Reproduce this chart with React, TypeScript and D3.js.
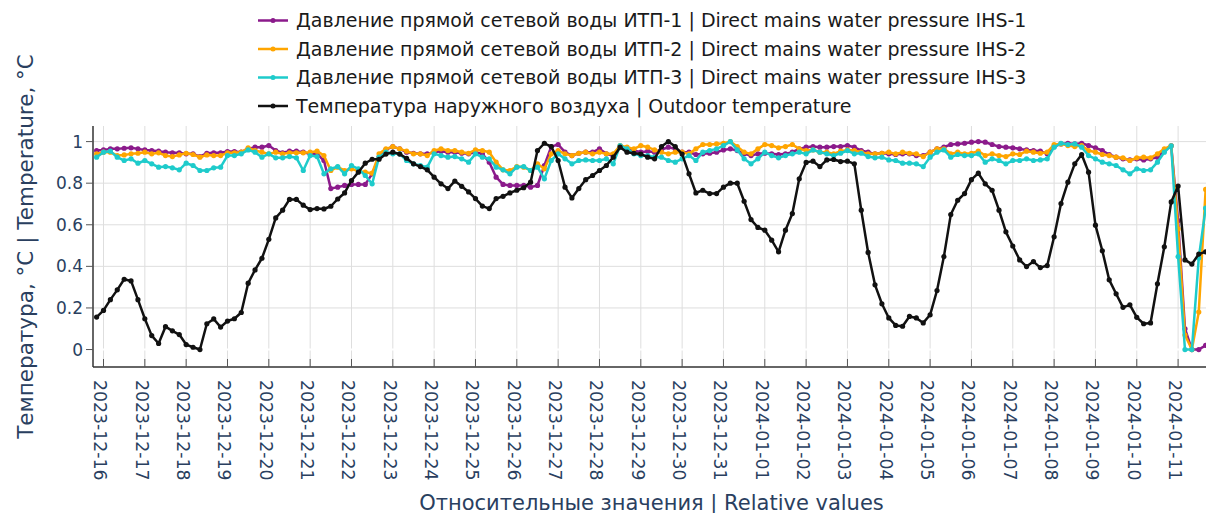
import React, { useRef, useEffect } from 'react'
import { select, scaleTime, scaleLinear, line, timeDay, timeFormat } from 'd3'

// readings every 4 hours, first one at 2023-12-15 20:00
const startTime = new Date(2023, 11, 15, 20, 0)
const stepHours = 4

const pressureIHS1 = [
    0.957, 0.960, 0.965, 0.965, 0.968, 0.970, 0.965, 0.960, 0.957, 0.954,
    0.949, 0.946, 0.946, 0.941, 0.941, 0.928, 0.944, 0.946, 0.946, 0.952,
    0.952, 0.949, 0.965, 0.973, 0.973, 0.981, 0.957, 0.946, 0.954, 0.954,
    0.949, 0.941, 0.941, 0.909, 0.774, 0.781, 0.789, 0.794, 0.794, 0.794,
    0.845, 0.925, 0.962, 0.976, 0.965, 0.949, 0.944, 0.941, 0.941, 0.949,
    0.954, 0.949, 0.949, 0.944, 0.941, 0.949, 0.941, 0.901, 0.829, 0.794,
    0.789, 0.789, 0.789, 0.781, 0.789, 0.885, 0.976, 0.986, 0.949, 0.933,
    0.944, 0.949, 0.949, 0.965, 0.941, 0.933, 0.976, 0.965, 0.957, 0.949,
    0.954, 0.949, 0.962, 0.973, 0.965, 0.949, 0.949, 0.938, 0.941, 0.944,
    0.949, 0.960, 0.965, 0.957, 0.941, 0.933, 0.941, 0.944, 0.941, 0.938,
    0.941, 0.949, 0.965, 0.973, 0.976, 0.973, 0.973, 0.976, 0.976, 0.981,
    0.973, 0.957, 0.949, 0.941, 0.944, 0.941, 0.938, 0.941, 0.941, 0.933,
    0.933, 0.949, 0.965, 0.973, 0.986, 0.989, 0.992, 0.997, 1.000, 0.997,
    0.986, 0.976, 0.973, 0.970, 0.965, 0.960, 0.957, 0.954, 0.941, 0.976,
    0.989, 0.992, 0.989, 0.992, 0.981, 0.970, 0.957, 0.938, 0.925, 0.917,
    0.912, 0.917, 0.912, 0.917, 0.925, 0.957, 0.980, 0.620, 0.100, 0.000,
    0.000, 0.020
]

const pressureIHS2 = [
    0.941, 0.949, 0.949, 0.933, 0.936, 0.941, 0.944, 0.949, 0.941, 0.946,
    0.933, 0.928, 0.936, 0.944, 0.938, 0.925, 0.936, 0.933, 0.933, 0.946,
    0.946, 0.949, 0.970, 0.957, 0.949, 0.941, 0.949, 0.941, 0.946, 0.946,
    0.946, 0.949, 0.954, 0.933, 0.861, 0.877, 0.861, 0.869, 0.858, 0.853,
    0.848, 0.941, 0.965, 0.976, 0.965, 0.954, 0.941, 0.941, 0.933, 0.957,
    0.965, 0.957, 0.957, 0.949, 0.944, 0.960, 0.957, 0.949, 0.901, 0.864,
    0.861, 0.880, 0.877, 0.861, 0.893, 0.869, 0.941, 0.957, 0.941, 0.933,
    0.944, 0.949, 0.941, 0.949, 0.941, 0.941, 0.981, 0.973, 0.965, 0.981,
    0.973, 0.960, 0.949, 0.941, 0.949, 0.949, 0.941, 0.965, 0.986, 0.986,
    0.989, 0.992, 1.000, 0.976, 0.949, 0.941, 0.965, 0.986, 0.981, 0.970,
    0.976, 0.986, 0.965, 0.957, 0.960, 0.949, 0.949, 0.941, 0.954, 0.960,
    0.957, 0.949, 0.941, 0.941, 0.944, 0.949, 0.941, 0.949, 0.944, 0.941,
    0.928, 0.949, 0.965, 0.965, 0.941, 0.949, 0.941, 0.944, 0.954, 0.933,
    0.941, 0.933, 0.928, 0.941, 0.938, 0.954, 0.949, 0.944, 0.949, 0.986,
    0.989, 0.981, 0.976, 0.981, 0.957, 0.949, 0.938, 0.933, 0.925, 0.922,
    0.909, 0.922, 0.925, 0.922, 0.941, 0.965, 0.980, 0.580, 0.070, 0.000,
    0.180, 0.770
]

const pressureIHS3 = [
    0.925, 0.949, 0.954, 0.925, 0.909, 0.917, 0.896, 0.909, 0.893, 0.877,
    0.880, 0.874, 0.864, 0.896, 0.885, 0.861, 0.861, 0.874, 0.877, 0.933,
    0.933, 0.941, 0.960, 0.949, 0.925, 0.941, 0.922, 0.922, 0.928, 0.922,
    0.861, 0.933, 0.928, 0.845, 0.869, 0.880, 0.845, 0.885, 0.869, 0.837,
    0.797, 0.925, 0.949, 0.941, 0.941, 0.909, 0.893, 0.885, 0.877, 0.941,
    0.933, 0.925, 0.928, 0.917, 0.901, 0.941, 0.925, 0.917, 0.877, 0.864,
    0.845, 0.877, 0.880, 0.861, 0.877, 0.821, 0.909, 0.941, 0.917, 0.893,
    0.909, 0.912, 0.909, 0.909, 0.917, 0.893, 0.981, 0.965, 0.941, 0.933,
    0.933, 0.925, 0.925, 0.909, 0.901, 0.917, 0.933, 0.909, 0.949, 0.957,
    0.965, 0.981, 1.000, 0.960, 0.917, 0.893, 0.917, 0.949, 0.933, 0.922,
    0.933, 0.941, 0.949, 0.941, 0.960, 0.949, 0.941, 0.933, 0.944, 0.957,
    0.941, 0.944, 0.928, 0.922, 0.925, 0.912, 0.909, 0.896, 0.896, 0.893,
    0.880, 0.925, 0.949, 0.960, 0.925, 0.938, 0.933, 0.933, 0.941, 0.901,
    0.917, 0.909, 0.893, 0.909, 0.909, 0.917, 0.909, 0.912, 0.917, 0.973,
    0.992, 0.986, 0.989, 0.973, 0.933, 0.917, 0.901, 0.893, 0.885, 0.864,
    0.845, 0.869, 0.861, 0.864, 0.901, 0.949, 0.980, 0.447, 0.000, 0.000,
    0.440, 0.680
]

const outdoorTemp = [
    0.156, 0.188, 0.240, 0.287, 0.338, 0.330, 0.240, 0.148, 0.067, 0.029,
    0.110, 0.090, 0.072, 0.024, 0.011, 0.000, 0.124, 0.147, 0.108, 0.137,
    0.148, 0.178, 0.319, 0.383, 0.439, 0.530, 0.633, 0.670, 0.722, 0.722,
    0.694, 0.673, 0.678, 0.676, 0.689, 0.724, 0.753, 0.813, 0.853, 0.896,
    0.915, 0.915, 0.940, 0.949, 0.940, 0.920, 0.893, 0.880, 0.864, 0.829,
    0.797, 0.774, 0.810, 0.785, 0.758, 0.726, 0.690, 0.678, 0.726, 0.737,
    0.753, 0.766, 0.778, 0.805, 0.957, 0.992, 0.976, 0.909, 0.781, 0.729,
    0.774, 0.817, 0.837, 0.861, 0.885, 0.925, 0.973, 0.949, 0.944, 0.940,
    0.925, 0.917, 0.976, 1.000, 0.976, 0.940, 0.845, 0.753, 0.766, 0.750,
    0.750, 0.781, 0.800, 0.800, 0.713, 0.625, 0.587, 0.574, 0.526, 0.470,
    0.574, 0.654, 0.821, 0.900, 0.906, 0.880, 0.912, 0.914, 0.904, 0.906,
    0.893, 0.670, 0.467, 0.311, 0.220, 0.152, 0.116, 0.112, 0.159, 0.152,
    0.128, 0.167, 0.284, 0.447, 0.649, 0.718, 0.750, 0.817, 0.848, 0.797,
    0.766, 0.670, 0.566, 0.498, 0.431, 0.399, 0.423, 0.394, 0.404, 0.542,
    0.702, 0.805, 0.893, 0.938, 0.853, 0.598, 0.475, 0.335, 0.268, 0.203,
    0.215, 0.155, 0.124, 0.128, 0.316, 0.494, 0.710, 0.786, 0.431, 0.411,
    0.459, 0.470
]

const seriesNames = [
    'Давление прямой сетевой воды ИТП-1 | Direct mains water pressure IHS-1',
    'Давление прямой сетевой воды ИТП-2 | Direct mains water pressure IHS-2',
    'Давление прямой сетевой воды ИТП-3 | Direct mains water pressure IHS-3',
    'Температура наружного воздуха | Outdoor temperature'
]

const yTickValues = [0, 0.2, 0.4, 0.6, 0.8, 1]
const xTitle = 'Относительные значения | Relative values'
const yTitle = 'Температура, °C | Temperature, °C'

const colors = ['#8b1a8b', '#ffa500', '#1ecbcb', '#111111']
const fontFamily = '"DejaVu Sans", Verdana, sans-serif'
const axisTextColor = '#2a3f5f'

const App = () => {
    const svgRef = useRef(null)

    useEffect(() => {
        const width = 1206
        const height = 513
        const left = 93
        const right = 1206
        const top = 126
        const bottom = 367

        const svg = select(svgRef.current)
        svg.selectAll('*').remove()

        const times = outdoorTemp.map((v, i) => new Date(startTime.getTime() + i * stepHours * 3600 * 1000))

        const xScale = scaleTime()
            .domain([new Date(2023, 11, 15, 17, 54), new Date(2024, 0, 11, 16, 12)])
            .range([left, right])

        const yScale = scaleLinear()
            .domain([-0.084, 1.075])
            .range([bottom, top])

        const dayTicks = timeDay.range(new Date(2023, 11, 16), new Date(2024, 0, 12))
        const fmt = timeFormat('%Y-%m-%d')

        // grid
        const grid = svg.append('g')
        grid.selectAll('.vgrid')
            .data(dayTicks)
            .join('line')
            .attr('x1', d => xScale(d))
            .attr('x2', d => xScale(d))
            .attr('y1', top)
            .attr('y2', bottom)
            .attr('stroke', '#dedede')
            .attr('stroke-width', 1)

        grid.selectAll('.hgrid')
            .data(yTickValues.filter(v => v !== 0))
            .join('line')
            .attr('x1', left)
            .attr('x2', right)
            .attr('y1', d => yScale(d))
            .attr('y2', d => yScale(d))
            .attr('stroke', '#dedede')
            .attr('stroke-width', 1)

        // zero line
        grid.append('line')
            .attr('x1', left)
            .attr('x2', right)
            .attr('y1', yScale(0))
            .attr('y2', yScale(0))
            .attr('stroke', '#ffffff')
            .attr('stroke-width', 2)

        // series
        const allSeries = [pressureIHS1, pressureIHS2, pressureIHS3, outdoorTemp]
        const seriesLine = line()
            .x((d, i) => xScale(times[i]))
            .y(d => yScale(d))

        allSeries.forEach((values, s) => {
            const g = svg.append('g')
            g.append('path')
                .datum(values)
                .attr('d', seriesLine)
                .attr('fill', 'none')
                .attr('stroke', colors[s])
                .attr('stroke-width', 2.5)
                .attr('stroke-linejoin', 'round')
            g.selectAll('circle')
                .data(values)
                .join('circle')
                .attr('cx', (d, i) => xScale(times[i]))
                .attr('cy', d => yScale(d))
                .attr('r', 2.6)
                .attr('fill', colors[s])
        })

        // axis lines
        svg.append('line')
            .attr('x1', left)
            .attr('x2', left)
            .attr('y1', top)
            .attr('y2', bottom)
            .attr('stroke', '#333')
            .attr('stroke-width', 1.5)
        svg.append('line')
            .attr('x1', left)
            .attr('x2', right)
            .attr('y1', bottom)
            .attr('y2', bottom)
            .attr('stroke', '#333')
            .attr('stroke-width', 1.5)

        // x ticks (inside) and rotated labels
        svg.selectAll('.xtick')
            .data(dayTicks)
            .join('line')
            .attr('x1', d => xScale(d))
            .attr('x2', d => xScale(d))
            .attr('y1', bottom)
            .attr('y2', bottom - 8)
            .attr('stroke', '#555')
            .attr('stroke-width', 1)

        svg.selectAll('.xlabel')
            .data(dayTicks)
            .join('text')
            .attr('transform', d => 'translate(' + (xScale(d) - 3) + ',' + (bottom + 13) + ') rotate(90)')
            .attr('dy', '0.35em')
            .style('font-family', fontFamily)
            .style('font-size', '17.3px')
            .style('fill', axisTextColor)
            .text(d => fmt(d))

        // y ticks (outside) and labels
        svg.selectAll('.ytick')
            .data(yTickValues)
            .join('line')
            .attr('x1', left - 7)
            .attr('x2', left)
            .attr('y1', d => yScale(d))
            .attr('y2', d => yScale(d))
            .attr('stroke', '#555')
            .attr('stroke-width', 1)

        svg.selectAll('.ylabel')
            .data(yTickValues)
            .join('text')
            .attr('x', left - 10)
            .attr('y', d => yScale(d))
            .attr('dy', '0.36em')
            .style('text-anchor', 'end')
            .style('font-family', fontFamily)
            .style('font-size', '17px')
            .style('fill', axisTextColor)
            .text(d => String(d))

        // axis titles
        svg.append('text')
            .attr('x', (left + right) / 2 + 2)
            .attr('y', 509.5)
            .style('text-anchor', 'middle')
            .style('font-family', fontFamily)
            .style('font-size', '21px')
            .style('fill', axisTextColor)
            .text(xTitle)

        svg.append('text')
            .attr('transform', 'translate(33,' + ((top + bottom) / 2) + ') rotate(-90)')
            .style('text-anchor', 'middle')
            .style('font-family', fontFamily)
            .style('font-size', '21.5px')
            .style('fill', axisTextColor)
            .text(yTitle)

        // legend
        const legend = svg.append('g')
        seriesNames.forEach((name, s) => {
            const cy = 20.5 + s * 28.5
            legend.append('line')
                .attr('x1', 258)
                .attr('x2', 288)
                .attr('y1', cy)
                .attr('y2', cy)
                .attr('stroke', colors[s])
                .attr('stroke-width', 2.5)
            legend.append('circle')
                .attr('cx', 273)
                .attr('cy', cy)
                .attr('r', 2.5)
                .attr('fill', colors[s])
            legend.append('text')
                .attr('x', 296)
                .attr('y', cy)
                .attr('dy', '0.36em')
                .style('font-family', fontFamily)
                .style('font-size', '19px')
                .style('fill', '#1a1a1a')
                .text(name)
        })

        svg.attr('width', width).attr('height', height)
    }, [])

    return (
        <svg ref={svgRef} width={1206} height={513}
            style={{ position: 'absolute', left: 0, top: 0, background: '#fff' }} />
    )
}

export default App
